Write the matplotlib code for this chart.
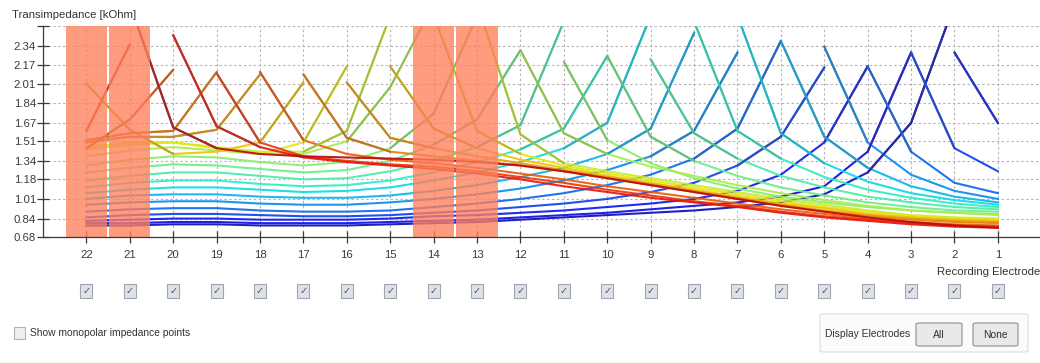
import matplotlib
matplotlib.use("Agg")
import matplotlib.pyplot as plt
import numpy as np
from matplotlib.patches import Rectangle, FancyBboxPatch

nan = float("nan")

# ---------------- data ----------------
recording_electrodes = list(range(22, 0, -1))          # x order, left to right
y_ticks = [0.68, 0.84, 1.01, 1.18, 1.34, 1.51, 1.67, 1.84, 2.01, 2.17, 2.34, 2.51]
y_tick_labels = ["0.68", "0.84", "1.01", "1.18", "1.34", "1.51", "1.67",
                 "1.84", "2.01", "2.17", "2.34", ""]
shaded_electrodes = [22, 21, 14, 13]

# transimpedance per stimulating electrode, values at recording electrodes 22..1
stim_01 = [0.78, 0.78, 0.79, 0.79, 0.78, 0.78, 0.78, 0.79, 0.80, 0.81, 0.83, 0.85, 0.87, 0.89, 0.91, 0.94, 0.98, 1.05, 1.24, 1.67, 2.70, nan]
stim_02 = [0.80, 0.80, 0.81, 0.81, 0.80, 0.80, 0.80, 0.81, 0.82, 0.83, 0.85, 0.87, 0.89, 0.92, 0.95, 0.98, 1.03, 1.12, 1.42, 2.28, nan, 2.30]
stim_03 = [0.82, 0.83, 0.84, 0.84, 0.83, 0.83, 0.83, 0.84, 0.86, 0.87, 0.89, 0.91, 0.94, 0.97, 1.01, 1.08, 1.22, 1.50, 2.16, nan, 2.28, 1.67]
stim_04 = [0.85, 0.87, 0.88, 0.88, 0.87, 0.86, 0.86, 0.87, 0.89, 0.91, 0.94, 0.97, 1.01, 1.07, 1.15, 1.30, 1.55, 2.15, nan, 2.28, 1.45, 1.25]
stim_05 = [0.90, 0.92, 0.93, 0.93, 0.91, 0.90, 0.90, 0.91, 0.94, 0.97, 1.01, 1.06, 1.13, 1.22, 1.36, 1.62, 2.38, nan, 2.16, 1.42, 1.15, 1.06]
stim_06 = [0.96, 0.98, 0.99, 0.99, 0.97, 0.96, 0.96, 0.98, 1.01, 1.05, 1.10, 1.17, 1.26, 1.38, 1.60, 2.28, nan, 2.33, 1.50, 1.22, 1.08, 1.01]
stim_07 = [1.01, 1.04, 1.05, 1.05, 1.03, 1.02, 1.02, 1.04, 1.08, 1.13, 1.20, 1.28, 1.40, 1.62, 2.45, nan, 2.38, 1.55, 1.28, 1.12, 1.03, 0.98]
stim_08 = [1.06, 1.09, 1.11, 1.11, 1.09, 1.07, 1.08, 1.11, 1.17, 1.24, 1.33, 1.45, 1.67, 2.60, nan, 2.60, 1.58, 1.32, 1.16, 1.06, 1.00, 0.96]
stim_09 = [1.11, 1.15, 1.17, 1.17, 1.14, 1.12, 1.13, 1.17, 1.24, 1.33, 1.44, 1.62, 2.25, nan, 2.55, 1.60, 1.36, 1.20, 1.09, 1.02, 0.97, 0.94]
stim_10 = [1.17, 1.21, 1.24, 1.24, 1.21, 1.18, 1.19, 1.25, 1.34, 1.46, 1.65, 2.55, nan, 2.22, 1.58, 1.36, 1.21, 1.11, 1.03, 0.98, 0.94, 0.92]
stim_11 = [1.24, 1.28, 1.31, 1.30, 1.27, 1.24, 1.26, 1.34, 1.48, 1.70, 2.30, nan, 2.25, 1.55, 1.34, 1.21, 1.11, 1.04, 0.98, 0.94, 0.91, 0.90]
stim_12 = [1.30, 1.35, 1.38, 1.37, 1.33, 1.30, 1.33, 1.45, 1.75, 2.60, nan, 2.20, 1.52, 1.32, 1.19, 1.10, 1.03, 0.98, 0.94, 0.91, 0.89, 0.88]
stim_13 = [1.38, 1.43, 1.46, 1.43, 1.40, 1.40, 1.51, 1.98, 2.70, nan, 2.30, 1.58, 1.40, 1.29, 1.21, 1.13, 1.06, 1.00, 0.95, 0.91, 0.89, 0.87]
stim_14 = [1.44, 1.48, 1.50, 1.46, 1.42, 1.42, 1.60, 2.60, nan, 2.70, 1.57, 1.32, 1.25, 1.19, 1.13, 1.07, 1.01, 0.96, 0.91, 0.87, 0.85, 0.84]
stim_15 = [1.46, 1.50, 1.50, 1.45, 1.40, 1.50, 2.16, nan, 2.60, 1.60, 1.40, 1.30, 1.23, 1.17, 1.11, 1.05, 0.99, 0.94, 0.90, 0.86, 0.84, 0.83]
stim_16 = [2.01, 1.61, 1.40, 1.42, 1.50, 2.02, nan, 2.16, 1.62, 1.45, 1.35, 1.28, 1.21, 1.15, 1.09, 1.03, 0.97, 0.93, 0.88, 0.85, 0.83, 0.82]
stim_17 = [1.50, 1.55, 1.55, 1.61, 2.09, nan, 2.02, 1.54, 1.45, 1.38, 1.32, 1.26, 1.20, 1.14, 1.08, 1.02, 0.96, 0.91, 0.87, 0.84, 0.82, 0.81]
stim_18 = [1.52, 1.58, 1.60, 2.11, nan, 2.09, 1.54, 1.42, 1.38, 1.34, 1.30, 1.25, 1.19, 1.13, 1.07, 1.01, 0.95, 0.90, 0.86, 0.83, 0.81, 0.80]
stim_19 = [1.45, 1.70, 2.13, nan, 2.11, 1.52, 1.40, 1.35, 1.32, 1.28, 1.23, 1.18, 1.12, 1.07, 1.02, 0.97, 0.92, 0.88, 0.84, 0.81, 0.79, 0.78]
stim_20 = [1.60, 2.35, nan, 2.10, 1.50, 1.38, 1.34, 1.31, 1.29, 1.25, 1.20, 1.15, 1.09, 1.04, 0.99, 0.95, 0.90, 0.86, 0.83, 0.80, 0.78, 0.77]
stim_21 = [2.05, nan, 2.43, 1.64, 1.46, 1.37, 1.33, 1.30, 1.27, 1.23, 1.18, 1.12, 1.07, 1.02, 0.98, 0.94, 0.89, 0.85, 0.82, 0.79, 0.77, 0.76]
stim_22 = [nan, 2.70, 1.63, 1.45, 1.40, 1.38, 1.37, 1.36, 1.35, 1.33, 1.30, 1.25, 1.19, 1.13, 1.07, 1.01, 0.95, 0.90, 0.85, 0.81, 0.78, 0.76]

stim_curves = [stim_01, stim_02, stim_03, stim_04, stim_05, stim_06, stim_07,
               stim_08, stim_09, stim_10, stim_11, stim_12, stim_13, stim_14,
               stim_15, stim_16, stim_17, stim_18, stim_19, stim_20, stim_21,
               stim_22]

# ---------------- figure ----------------
W, H = 1040, 363
plt.rcParams["font.family"] = ["Liberation Sans", "DejaVu Sans"]
fig = plt.figure(figsize=(W / 100, H / 100), dpi=100)
fig.patch.set_facecolor("white")

AX_L, AX_T, AX_B = 43, 26, 237
ax = fig.add_axes([AX_L / W, 1 - AX_B / H, 1 - AX_L / W, (AX_B - AX_T) / H])
ax.set_xlim(23.0, 0.03)
ax.set_ylim(0.68, 2.51)

cmap = matplotlib.colormaps["jet"]
n = len(stim_curves)
HIGH = 1.52   # segments reaching above this are drawn in a duller shade
for i, vals in enumerate(stim_curves):
    base = np.array(cmap(0.06 + 0.88 * i / (n - 1))[:3])
    vivid = 0.88 * base + 0.12 * 0.42
    dull = 0.58 * base + 0.42 * 0.40
    ax.plot(recording_electrodes, vals, color=vivid, lw=1.5, alpha=0.92,
            solid_joinstyle="miter", zorder=2)
    for k in range(len(vals) - 1):
        a, b = vals[k], vals[k + 1]
        if np.isnan(a) or np.isnan(b):
            continue
        if max(a, b) > HIGH:
            ax.plot(recording_electrodes[k:k + 2], vals[k:k + 2], color=dull,
                    lw=1.5, solid_capstyle="round", zorder=2.1)

# shaded (deactivated) electrodes, drawn over the lines
for e in shaded_electrodes:
    ax.axvspan(e - 0.5 + 0.025, e + 0.5 - 0.025, color="#ff7f5a", alpha=0.78,
               lw=0, zorder=3)

ax.set_xticks(recording_electrodes)
ax.set_xticklabels([str(e) for e in recording_electrodes])
ax.set_yticks(y_ticks)
ax.set_yticklabels(y_tick_labels)
ax.grid(True, ls=(0, (2.2, 2.2)), color="#b5b5b5", lw=0.8, zorder=1)
ax.set_axisbelow(True)
for s in ["top", "right"]:
    ax.spines[s].set_visible(False)
for s in ["left", "bottom"]:
    ax.spines[s].set_color("#3a3a3a")
    ax.spines[s].set_linewidth(0.9)
    ax.spines[s].set_zorder(5)
ax.tick_params(axis="x", direction="inout", length=8, width=0.9,
               color="#3a3a3a", labelsize=8.2, labelcolor="#3a3a3a", pad=5)
ax.tick_params(axis="y", direction="inout", length=8, width=0.9,
               color="#3a3a3a", labelsize=8.2, labelcolor="#3a3a3a", pad=1)

# ---------------- UI texts & widgets ----------------
def fx(x):
    return x / W

def fy(y):
    return 1 - y / H

def rect(x0, y0, x1, y1, **kw):
    r = Rectangle((fx(x0), fy(y1)), (x1 - x0) / W, (y1 - y0) / H,
                  transform=fig.transFigure, **kw)
    fig.add_artist(r)
    return r

def rrect(x0, y0, x1, y1, **kw):
    r = FancyBboxPatch((fx(x0), fy(y1)), (x1 - x0) / W, (y1 - y0) / H,
                       boxstyle="round,pad=0,rounding_size=0.004",
                       transform=fig.transFigure, **kw)
    fig.add_artist(r)
    return r

fig.text(fx(12), fy(15), "Transimpedance [kOhm]", fontsize=8.2,
         color="#333333", va="center", ha="left")
fig.text(fx(937), fy(272), "Recording Electrode", fontsize=8.2,
         color="#333333", va="center", ha="left")

# electrode checkboxes
unit = (W - AX_L) / 22.97
for e in recording_electrodes:
    xc = AX_L + (23 - e) * unit
    rect(xc - 6, 284, xc + 6, 298, facecolor="#dde2e9", edgecolor="#9ea6b0", lw=0.8)
    fig.text(fx(xc), fy(291), "\u2713", fontsize=7, color="#4a525c",
             ha="center", va="center", family="DejaVu Sans")

# monopolar checkbox
rect(14, 327, 25, 339, facecolor="#eeeeee", edgecolor="#b4b4b4", lw=0.8)
fig.text(fx(30), fy(333), "Show monopolar impedance points", fontsize=7.4,
         color="#333333", va="center", ha="left")

# Display Electrodes group
rrect(820, 314, 1028, 352, facecolor="#fbfbfb", edgecolor="#dcdcdc", lw=0.8)
fig.text(fx(825), fy(334), "Display Electrodes", fontsize=7.4,
         color="#333333", va="center", ha="left")
rrect(916, 323, 962, 346, facecolor="#e9e9e9", edgecolor="#8e8e8e", lw=0.8)
fig.text(fx(939), fy(334.5), "All", fontsize=7.4, color="#333333",
         va="center", ha="center")
rrect(973, 323, 1018, 346, facecolor="#e9e9e9", edgecolor="#8e8e8e", lw=0.8)
fig.text(fx(995.5), fy(334.5), "None", fontsize=7.4, color="#333333",
         va="center", ha="center")

fig.savefig("out.png", dpi=100, facecolor="white")
